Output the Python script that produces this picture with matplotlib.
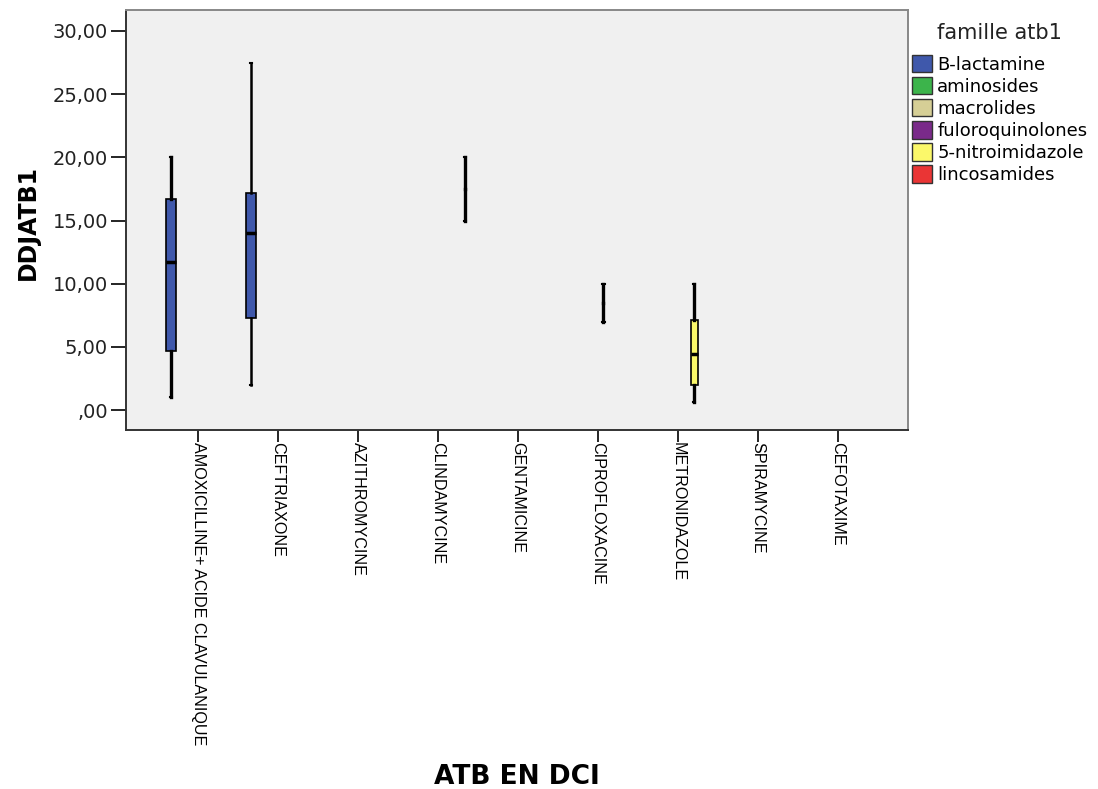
import numpy as np
import matplotlib
matplotlib.use("Agg")
import matplotlib.pyplot as plt
from matplotlib.patches import Patch
from matplotlib.ticker import FuncFormatter

# categories (x axis) and the family each one belongs to
DRUGS = ["AMOXICILLINE+ ACIDE CLAVULANIQUE", "CEFTRIAXONE", "AZITHROMYCINE",
         "CLINDAMYCINE", "GENTAMICINE", "CIPROFLOXACINE", "METRONIDAZOLE",
         "SPIRAMYCINE", "CEFOTAXIME"]
FAMILIES = ["B-lactamine", "aminosides", "macrolides", "fuloroquinolones",
            "5-nitroimidazole", "lincosamides"]
FAM_COLORS = ["#3f58ab", "#3cb44b", "#d6cf96", "#7a2a8a", "#fbf86a", "#ea3535"]

# boxes that are drawn (drug index, family index, whislo, q1, med, q3, whishi)
BOX_DRUG = [0, 1, 3, 5, 6]
BOX_FAM = [0, 0, 5, 3, 4]
WHISLO = [1.0, 2.0, 15.0, 7.0, 0.6]
Q1 = [4.7, 7.3, 17.5, 8.5, 2.0]
MED = [11.7, 14.0, 17.5, 8.5, 4.4]
Q3 = [16.7, 17.2, 17.5, 8.5, 7.1]
WHISHI = [20.0, 27.5, 20.0, 10.0, 10.0]

SLOT = 0.135

fig = plt.figure(figsize=(10.98, 7.89), dpi=100)
ax = fig.add_axes([126 / 1098, 1 - 430 / 789, 782 / 1098, 420 / 789])
ax.set_facecolor("#f0f0f0")

stats = []
positions = []
widths = []
colors = []
for i in range(len(BOX_DRUG)):
    stats.append(dict(whislo=WHISLO[i], q1=Q1[i], med=MED[i], q3=Q3[i],
                      whishi=WHISHI[i], fliers=[]))
    positions.append(BOX_DRUG[i] + (BOX_FAM[i] - 2.5) * SLOT)
    colors.append(FAM_COLORS[BOX_FAM[i]])
    if Q1[i] == Q3[i]:
        widths.append(0.005)   # only a line, no box
    elif BOX_FAM[i] == 4:
        widths.append(0.09)
    else:
        widths.append(0.13)

bp = ax.bxp(stats, positions=positions, widths=widths, patch_artist=True,
            showfliers=False, capwidths=0.03,
            boxprops=dict(linewidth=1.2, edgecolor="black"),
            whiskerprops=dict(linewidth=2.4, color="black"),
            capprops=dict(linewidth=1.5, color="black"),
            medianprops=dict(linewidth=2.5, color="black"))
for box, c in zip(bp["boxes"], colors):
    box.set_facecolor(c)
for i, m in enumerate(bp["medians"]):
    if widths[i] < 0.02:
        m.set_visible(False)
        bp["boxes"][i].set_visible(False)
# ceftriaxone whiskers are drawn thinner
for w in bp["whiskers"][2:4]:
    w.set_linewidth(1.8)

ax.set_xlim(-0.9, 8.875)
ax.set_ylim(-1.58, 31.66)
ax.set_yticks([0, 5, 10, 15, 20, 25, 30])
ax.yaxis.set_major_formatter(FuncFormatter(
    lambda v, p: ",00" if v == 0 else f"{v:.2f}".replace(".", ",")))
ax.set_xticks(range(len(DRUGS)))
ax.set_xticklabels(DRUGS, rotation=270, va="top", ha="center",
                   family="Liberation Sans", fontsize=11.6)
ax.tick_params(axis="y", length=11, width=1.2, labelsize=14, pad=2,
               labelcolor="#222222")
ax.tick_params(axis="x", length=8.5, width=1.2, pad=0.5)
for s in ["left", "bottom"]:
    ax.spines[s].set_linewidth(1.4)
    ax.spines[s].set_color("#333333")
for s in ["top", "right"]:
    ax.spines[s].set_linewidth(1.4)
    ax.spines[s].set_color("#888888")

fig.text(28 / 1098, 1 - 222 / 789, "DDJATB1", rotation=90, ha="center",
         va="center", fontsize=17, fontweight="bold")
fig.text(517 / 1098, 1 - 777 / 789, "ATB EN DCI", ha="center", va="center",
         fontsize=19, fontweight="bold")

fig.text(937 / 1098, 1 - 33 / 789, "famille atb1", ha="left", va="center",
         fontsize=15, color="#222222")
handles = [Patch(facecolor=c, edgecolor="#333333", linewidth=1) for c in FAM_COLORS]
leg = fig.legend(handles, FAMILIES, loc="upper left",
                 bbox_to_anchor=(912 / 1098, 1 - 55 / 789), frameon=False,
                 fontsize=13, handlelength=1.1, handleheight=1.1,
                 handletextpad=0.3, labelspacing=0.18,
                 borderpad=0, borderaxespad=0)

fig.savefig("out.png", dpi=100)
